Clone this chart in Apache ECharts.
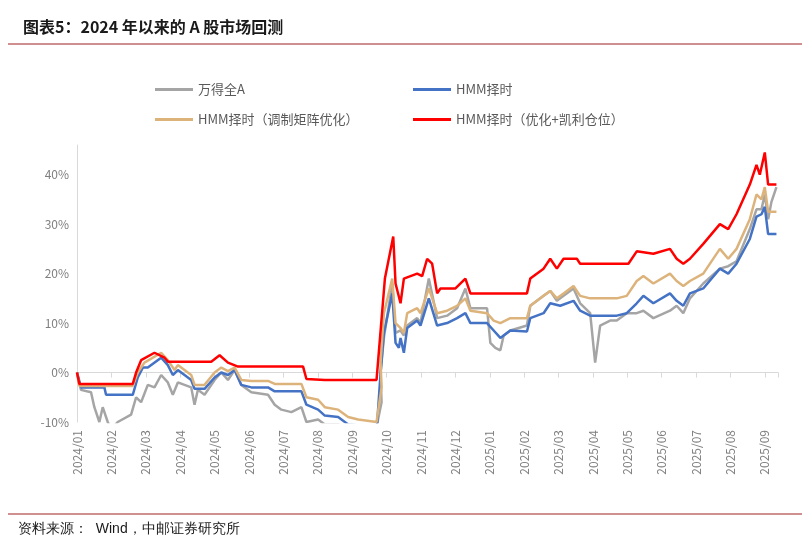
<!DOCTYPE html>
<html><head><meta charset="utf-8">
<script src="https://cdn.jsdelivr.net/npm/echarts@6/dist/echarts.min.js"></script>
<style>html,body{margin:0;padding:0;background:#fff}#c{width:810px;height:548px}</style>
</head><body><div id="c"></div>
<script>
const monthLabels = ['2024/01','2024/02','2024/03','2024/04','2024/05','2024/06','2024/07','2024/08','2024/09','2024/10','2024/11','2024/12','2025/01','2025/02','2025/03','2025/04','2025/05','2025/06','2025/07','2025/08','2025/09'];
const seriesNames = ['万得全A','HMM择时','HMM择时（调制矩阵优化）','HMM择时（优化+凯利仓位）'];
const redX1 = [48,55,215,225,240,280,310,320,450,475,500,530,725,735,790,945,970,995];
const redY1 = [0,-2.3,-2.3,0,2.5,4,3,2.2,2.2,3.5,2,1.2,1.2,-1.3,-1.5,-1.5,19,27.5];
const redX2 = [75,90,100,140,155,170,185,200,210,255,285,300,470,480,520,540,560,580,620,630,775,800,850,900,920,940,960,1000,1050,1075,1100,1140,1160,1170,1185,1195,1220];
const redY2 = [18,14,19,20,19.5,23,22,16,17,17,19,16,16,19,21,23,21,23,23,22,22,24.5,24,25,23,22,23,26,30,29,32,38,42,40,44.5,38,38];
const blueX1 = [48,60,130,135,215,230,245,260,300,320,335,350,390,400,430,460,480,500,520,540,570,620,640,720,735,770,790,830,860,945];
const blueY1 = [0,-3,-3,-4.5,-4.5,-1,1,1,3,1.5,-0.5,0.5,-1.5,-3.3,-3.3,-1,0,-0.5,0.5,-2.5,-3,-3,-3.8,-3.8,-6.5,-7.5,-8.7,-9,-10.5,-11];
const blueX2 = [20,30,40,65,75,85,90,100,110,140,150,175,200,230,260,285,300,350,370,390,420,470,480,520,540,570,610,630,660,740,770,800,820,850,900,920,940,960,1000,1050,1075,1100,1140,1160,1175,1185,1195,1220];
const blueY2 = [-10,0,8,16,6,5,7,4,9,10.5,9.5,15,9.5,10,11,12,10,10,8.5,7,8.5,8.3,11,12,14,13.5,14.5,12.5,11.5,11.5,12,14,15.5,14,16,14.5,13.5,16,17,21,20,22,27,31.5,32,33.5,28,28];
const tanX1 = [48,55,215,230,250,300,320,340,350,390,400,430,460,480,500,520,540,570,620,640,720,735,770,790,830,860,890,945,960];
const tanY1 = [0,-2.7,-2.7,0,2,4,2.5,0.5,1.5,-0.5,-2.5,-2.5,0,1,0.3,1,-1.5,-1.7,-1.7,-2.3,-2.3,-5,-5.5,-7,-7.5,-9,-9.5,-10,-3];
const tanX2 = [30,40,65,75,90,100,110,140,150,175,200,230,260,285,300,350,370,390,420,470,480,520,540,560,580,610,630,660,740,770,800,820,850,900,920,940,960,1000,1050,1075,1100,1140,1160,1175,1185,1195,1220];
const tanY2 = [2,12,19,10,9,8,12,13,12,17,12,12.5,13.5,15,12.5,12,10.5,10,11,11,13.5,15.5,16.5,15,16,17.5,15.5,15,15,15.5,18.5,19.5,18,20,18.5,17.5,18.5,20,25,23,25,31,36,35,37.5,32.5,32.5];
const grayX1 = [48,60,90,100,115,125,140,150,170,210,225,240,260,280,300,320,335,350,390,400,410,430,460,480,500,520,540,570,620,640,660,690,720,735,770,790,830,860,945,960];
const grayY1 = [0,-3.5,-4,-7,-10,-7,-10,-11.5,-10,-8.5,-5,-6,-2.5,-3,-0.5,-2,-4.5,-2,-3,-6.5,-3.5,-4.5,-1.5,0,-1.5,0.5,-2.5,-4,-4.5,-6.5,-7.5,-8,-7,-10,-9.5,-10.5,-10.5,-11.5,-11,-6];
const grayX2 = [30,40,65,75,90,100,110,140,150,175,200,230,260,285,300,350,360,375,390,400,420,470,480,520,540,560,580,610,630,660,675,690,720,740,770,800,820,850,900,920,940,960,1000,1050,1075,1100,1140,1160,1175,1185,1195,1205,1220];
const grayY2 = [0,7,18,8,8.5,7.5,9.5,11,10,19,11,11.5,13,17,13,13,6,5,4.5,7.5,8.5,9.5,13.5,15.5,16.5,14.5,15.5,17,14,12,2,9.5,10.5,10.5,12,12,12.5,11,12.5,13.5,12,15,18,21,21.5,22.5,29,33,33,36,31,34.5,37.5];

function build(x1,y1,x2,y2){
  const a=[];
  x1.forEach((x,i)=>a.push([(x-48)/103, y1[i]]));
  x2.forEach((x,i)=>a.push([9+(x-48)/103.4, y2[i]]));
  return a;
}
const colors=['#A5A5A5','#4472C4','#DDB37C','#FF0000'];
const datas=[build(grayX1,grayY1,grayX2,grayY2),build(blueX1,blueY1,blueX2,blueY2),build(tanX1,tanY1,tanX2,tanY2),build(redX1,redY1,redX2,redY2)];
const font='"Noto Sans CJK SC", sans-serif';
const legPos=[[150,78],[408,78],[150,108],[408,108]];
const chart=echarts.init(document.getElementById('c'));
chart.setOption({
  animation:false,
  color:colors,
  title:{text:'图表5：2024 年以来的 A 股市场回测',left:18,top:14,textStyle:{fontSize:16,fontWeight:'bold',color:'#1a1a1a',fontFamily:font}},
  graphic:[
    {type:'line',shape:{x1:8,y1:44,x2:802,y2:44},style:{stroke:'#A0201E',lineWidth:1}},
    {type:'line',shape:{x1:8,y1:514,x2:802,y2:514},style:{stroke:'#A0201E',lineWidth:1}},
    {type:'text',left:18,top:522,style:{text:'资料来源：  Wind，中邮证券研究所',fontSize:14,fill:'#1a1a1a',font:'14px '+font}}
  ],
  legend:seriesNames.map((n,i)=>({data:[n],left:legPos[i][0],top:legPos[i][1],itemWidth:38,itemHeight:3,icon:'rect',textStyle:{color:'#595959',fontSize:13,fontFamily:font}})),
  grid:{left:77,right:32,top:145,bottom:126},
  xAxis:[
    {type:'value',min:0,max:20.38,interval:1,splitLine:{show:false},
     axisLine:{show:true,onZero:true,lineStyle:{color:'#D9D9D9'}},axisTick:{show:true,lineStyle:{color:'#D9D9D9'}},axisLabel:{show:false}},
    {type:'value',min:0,max:20.38,interval:1,position:'bottom',splitLine:{show:false},
     axisLine:{show:false,onZero:false},axisTick:{show:false},
     axisLabel:{rotate:90,color:'#7F7F7F',fontSize:12,fontFamily:font,showMaxLabel:false,formatter:v=>(Math.abs(v-Math.round(v))<1e-6?(monthLabels[Math.round(v)]||''):'')}}
  ],
  yAxis:{type:'value',min:-10,max:46,interval:10,splitLine:{show:false},
    axisLine:{show:true,lineStyle:{color:'#D9D9D9'}},axisTick:{show:false},
    axisLabel:{color:'#7F7F7F',fontSize:12,fontFamily:font,formatter:v=>(v%10===0?v+'%':'')}},
  series:datas.map((d,i)=>({name:seriesNames[i],type:'line',data:d,xAxisIndex:0,showSymbol:false,symbol:'none',clip:true,lineStyle:{width:2.5,color:colors[i]},z:2+i}))
});
</script></body></html>
